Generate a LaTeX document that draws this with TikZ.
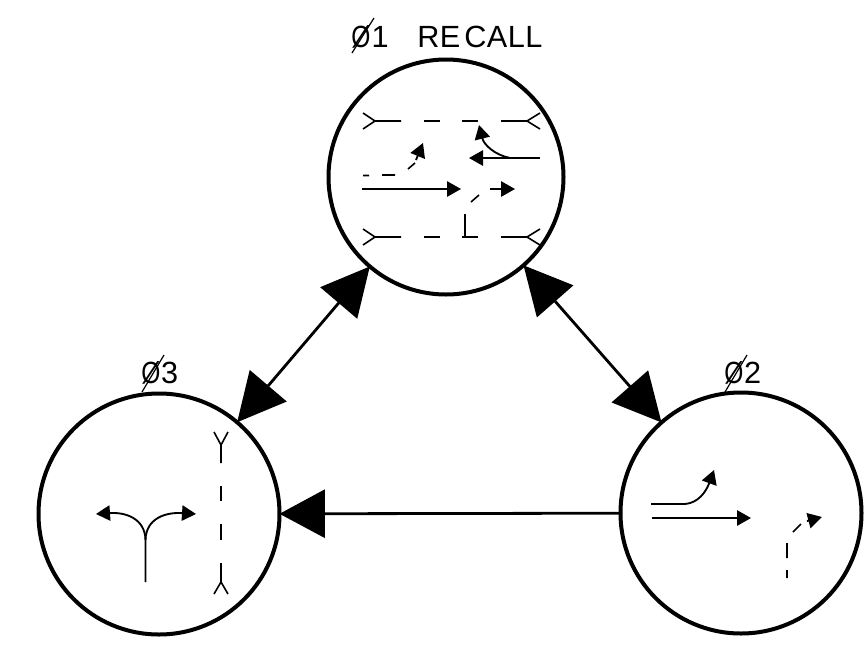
\documentclass[tikz,border=0pt]{standalone}
\usepackage{fontspec}
\setmainfont{Liberation Sans}
\usetikzlibrary{arrows.meta}
\tikzset{
  x=0.75pt,y=-0.75pt,
  phase/.style={circle,draw,line width=3pt,inner sep=0pt,outer sep=0pt,minimum size=#1*0.75pt},
  bigarrow/.style={line width=2.1pt,{Triangle[length=36pt,width=36pt]}-{Triangle[length=36pt,width=36pt]}},
  singlearrow/.style={line width=2.1pt,-{Triangle[length=34pt,width=36pt]}},
  thin line/.style={line width=1.2pt},
  slash line/.style={line width=0.9pt},
  smallarrow/.style={line width=1.4pt,-{Triangle[length=10.5pt,width=11.5pt]}},
  lbl/.style={inner sep=0pt,font=\fontsize{23}{23}\selectfont,anchor=base west}
}
\newcommand{\slz}{\scalebox{0.8}[1]{Ø}}
\begin{document}
\begin{tikzpicture}
\useasboundingbox (0,0) rectangle (865,654);
\node[phase=235] (c1) at (446,177) {};
\node[phase=241] (c2) at (741,513) {};
\node[phase=241] (c3) at (159,514) {};
\draw[bigarrow] (c1) -- (c3);
\draw[bigarrow] (c1) -- (c2);
\draw[singlearrow] (c2) -- (c3);
\node[lbl] (t1) at (351,47) {\slz\hspace{1pt}1};
\node[lbl] (t1b) at (417,47) {\addfontfeature{LetterSpace=1.5}RE\hspace{3pt}CALL};
\node[lbl] (t3) at (141,383) {\slz\hspace{0.5pt}3};
\node[lbl] (t2) at (724,383) {\slz\hspace{0.5pt}2};
\draw[slash line] (352,53) -- (374,18);
\draw[slash line] (142,392) -- (164,355);
\draw[slash line] (725,392) -- (747,355);
% circle 1
\foreach \yy in {121,237}{
  \draw[thin line] (363,\yy-8) -- (375,\yy) -- (363,\yy+8) (375,\yy) -- (401,\yy);
  \draw[thin line] (424,\yy) -- (440,\yy) (462,\yy) -- (478,\yy);
  \draw[thin line] (501,\yy) -- (527,\yy) (540,\yy-8) -- (527,\yy) -- (540,\yy+8);
}
\draw[thin line] (465,214) -- (465,237);
\draw[smallarrow] (362,189) -- (461,189);
\draw[smallarrow] (540,158) -- (469,158);
\draw[smallarrow] (510,158) .. controls (495,155) and (484,145) .. (479,125);
\draw[thin line] (363,175.5) -- (369,175.5) (382,175) -- (395,175) (408,169) -- (415,163);
\draw[smallarrow] (416,160) -- (423,143);
\draw[smallarrow] (490,189) -- (515,189);
\draw[thin line] (471,202) -- (479,195);
% circle 3
\draw[thin line] (214,432) -- (221,445) -- (228,432) (221,445) -- (221,463);
\draw[thin line] (221,486) -- (221,501) (221,524) -- (221,540);
\draw[thin line] (221,563) -- (221,582) (214,594) -- (221,582) -- (228,594);
\draw[smallarrow] (145.5,582) -- (145.5,540) .. controls (145,518) and (125,512) .. (96,514);
\draw[smallarrow] (145.5,540) .. controls (146,518) and (166,512) .. (196,514);
% circle 2
\draw[smallarrow] (651,504) -- (685,504) .. controls (698,503) and (706,492) .. (714,470);
\draw[smallarrow] (652,518) -- (751,518);
\draw[thin line] (787,570) -- (787,578) (787,543) -- (787,558) (793,532) -- (801,524);
\draw[smallarrow] (807,521) -- (822,517);
\end{tikzpicture}
\end{document}
